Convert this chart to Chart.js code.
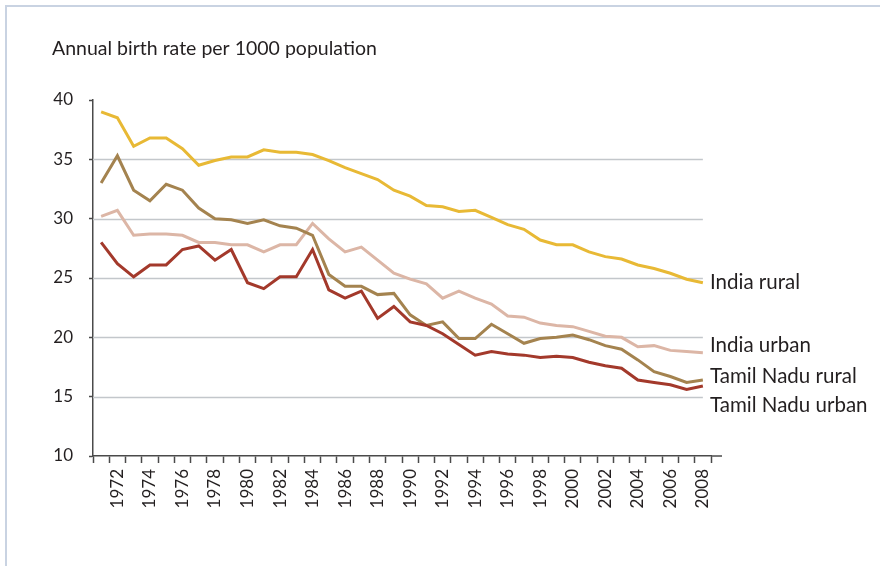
<!DOCTYPE html>
<html>
<head>
<meta charset="utf-8">
<script src="https://cdn.jsdelivr.net/npm/chart.js@4/dist/chart.umd.min.js"></script>
<style>
  html, body { margin: 0; padding: 0; background: #fff; }
  #wrap { position: relative; width: 880px; height: 566px; overflow: hidden; }
  #frame { position: absolute; left: 5px; top: 5px; width: 900px; height: 600px;
           border-left: 2.5px solid #c9d3e2; border-top: 2.5px solid #c9d3e2; }
  canvas { position: absolute; left: 0; top: 0; }
</style>
</head>
<body>
<div id="wrap">
  <div id="frame"></div>
  <canvas id="chart" width="880" height="566"></canvas>
</div>
<script>
const years = [1971, 1972, 1973, 1974, 1975, 1976, 1977, 1978, 1979, 1980,
  1981, 1982, 1983, 1984, 1985, 1986, 1987, 1988, 1989, 1990,
  1991, 1992, 1993, 1994, 1995, 1996, 1997, 1998, 1999, 2000,
  2001, 2002, 2003, 2004, 2005, 2006, 2007, 2008]

const indiaRural = [39.0, 38.5, 36.1, 36.8, 36.8, 35.9, 34.5, 34.9, 35.2, 35.2, 35.8, 35.6, 35.6, 35.4,
  34.9, 34.3, 33.8, 33.3, 32.4, 31.9, 31.1, 31.0, 30.6, 30.7,
  30.1, 29.5, 29.1, 28.2, 27.8, 27.8, 27.2, 26.8, 26.6, 26.1, 25.8, 25.4, 24.9, 24.6]
const indiaUrban = [30.2, 30.7, 28.6, 28.7, 28.7, 28.6, 28.0, 28.0, 27.8, 27.8, 27.2, 27.8, 27.8, 29.6,
  28.3, 27.2, 27.6, 26.5, 25.4, 24.9, 24.5, 23.3, 23.9, 23.3,
  22.8, 21.8, 21.7, 21.2, 21.0, 20.9, 20.5, 20.1, 20.0, 19.2, 19.3, 18.9, 18.8, 18.7]
const tnRural = [33.0, 35.3, 32.4, 31.5, 32.9, 32.4, 30.9, 30.0, 29.9, 29.6, 29.9, 29.4, 29.2, 28.6,
  25.3, 24.3, 24.3, 23.6, 23.7, 21.9, 21.0, 21.3, 19.9, 19.9,
  21.1, 20.3, 19.5, 19.9, 20.0, 20.2, 19.8, 19.3, 19.0, 18.1, 17.1, 16.7, 16.2, 16.4]
const tnUrban = [28.0, 26.2, 25.1, 26.1, 26.1, 27.4, 27.7, 26.5, 27.4, 24.6, 24.1, 25.1, 25.1, 27.4,
  24.0, 23.3, 23.9, 21.6, 22.6, 21.3, 21.0, 20.3, 19.4, 18.5,
  18.8, 18.6, 18.5, 18.3, 18.4, 18.3, 17.9, 17.6, 17.4, 16.4, 16.2, 16.0, 15.6, 15.9]

const yTicks = [10, 15, 20, 25, 30, 35, 40]
const yTitle = 'Annual birth rate per 1000 population'

const FONT = 'Lato, "Open Sans", sans-serif'
const INK = '#231f20'

// end-of-line labels, nudged vertically off the last point
const endLabels = [
  { text: 'Tamil Nadu urban', ds: 0, dy: 19 },
  { text: 'Tamil Nadu rural', ds: 1, dy: -4 },
  { text: 'India urban', ds: 2, dy: -7 },
  { text: 'India rural', ds: 3, dy: 0 },
]

const decor = {
  id: 'decor',
  beforeDatasetsDraw(chart) {
    const { ctx, scales: { x, y }, chartArea } = chart
    const right = x.getPixelForValue(years.length - 1)
    ctx.save()
    ctx.strokeStyle = '#c3c7cb'
    ctx.lineWidth = 1.5
    yTicks.slice(1, -1).forEach(v => {
      const py = Math.round(y.getPixelForValue(v)) + 0.5
      ctx.beginPath()
      ctx.moveTo(chartArea.left, py)
      ctx.lineTo(right, py)
      ctx.stroke()
    })
    ctx.restore()
  },
  afterDraw(chart) {
    const { ctx, scales: { x, y }, chartArea } = chart
    ctx.save()
    // axis stub past the last tick
    ctx.strokeStyle = '#4a4a4a'
    ctx.lineWidth = 1.5
    ctx.beginPath()
    ctx.moveTo(chartArea.right, chartArea.bottom)
    ctx.lineTo(chartArea.right + 11, chartArea.bottom)
    ctx.stroke()

    ctx.fillStyle = INK
    ctx.font = '19.5px ' + FONT
    ctx.textBaseline = 'middle'
    ctx.textAlign = 'left'
    ctx.fillText(yTitle, 52, 49)

    ctx.font = '20.5px ' + FONT
    const last = years.length - 1
    endLabels.forEach(l => {
      const py = y.getPixelForValue(chart.data.datasets[l.ds].data[last]) + l.dy
      ctx.fillText(l.text, 710, py)
    })
    ctx.restore()
  }
}

const line = (label, data, color) => ({
  label, data, borderColor: color, backgroundColor: color,
  borderWidth: 3, pointRadius: 0, tension: 0, fill: false
})

new Chart(document.getElementById('chart'), {
  type: 'line',
  data: {
    labels: years,
    datasets: [
      line('Tamil Nadu urban', tnUrban, '#a3392b'),
      line('Tamil Nadu rural', tnRural, '#a4834f'),
      line('India urban', indiaUrban, '#dcb6a6'),
      line('India rural', indiaRural, '#e8b935'),
    ]
  },
  options: {
    responsive: false,
    animation: false,
    layout: { padding: { left: 0, top: 100, right: 169, bottom: 0 } },
    plugins: { legend: { display: false }, tooltip: { enabled: false } },
    scales: {
      x: {
        type: 'category',
        offset: true,
        afterFit: s => { s.height = 110 },
        grid: { display: true, offset: true, drawOnChartArea: false, drawTicks: true,
                tickLength: 7, tickColor: '#4a4a4a', tickWidth: 1.5 },
        border: { display: true, color: '#4a4a4a', width: 1.5 },
        ticks: {
          autoSkip: false, minRotation: 90, maxRotation: 90, padding: 6,
          color: INK, font: { family: FONT, size: 17 },
          callback: (v, i) => years[i] % 2 === 0 ? String(years[i]) : ''
        }
      },
      y: {
        min: 10, max: 40,
        afterFit: s => { s.width = 93 },
        afterBuildTicks: s => { s.ticks = yTicks.map(v => ({ value: v })) },
        grid: { display: true, drawOnChartArea: false, drawTicks: true,
                tickLength: 4, tickColor: '#4a4a4a', tickWidth: 1.5 },
        border: { display: true, color: '#4a4a4a', width: 1.5 },
        ticks: { padding: 16, color: INK, font: { family: FONT, size: 17 } }
      }
    }
  },
  plugins: [decor]
})
</script>
</body>
</html>
